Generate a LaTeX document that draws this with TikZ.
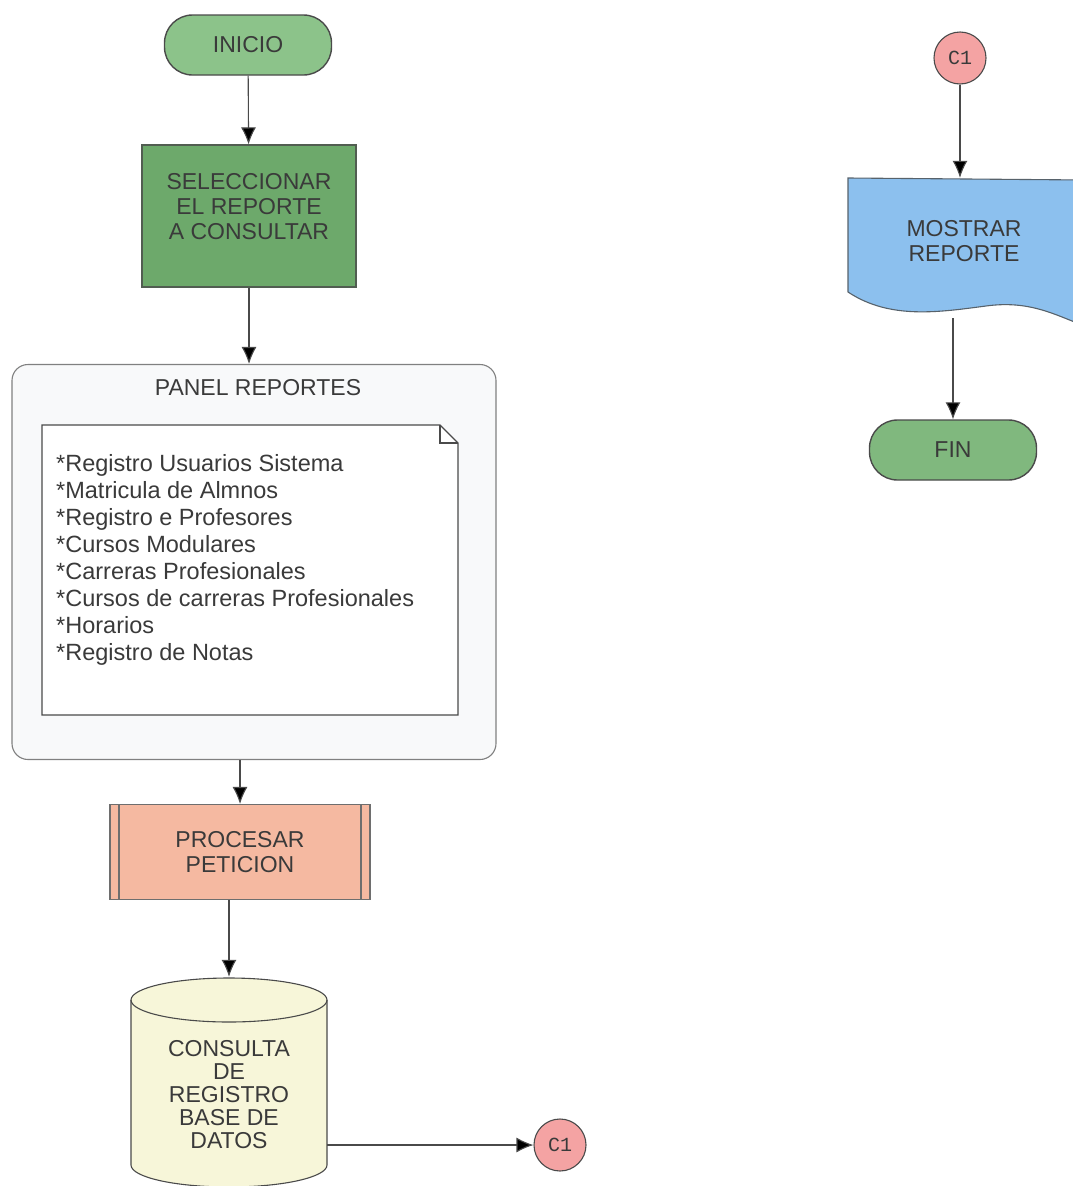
\documentclass[tikz,border=0pt]{standalone}
\usepackage{fontspec}
\setmainfont{Liberation Sans}
\newfontfamily\monofont{Liberation Mono}
\usetikzlibrary{arrows.meta}
\definecolor{linea}{HTML}{4A4A4A}
\definecolor{texto}{HTML}{3A3A3A}
\definecolor{verdeinicio}{HTML}{8CC38A}
\definecolor{verdeselec}{HTML}{6DA96B}
\definecolor{verdefin}{HTML}{80B87E}
\definecolor{grispanel}{HTML}{F8F9FA}
\definecolor{salmon}{HTML}{F5B9A1}
\definecolor{cremadb}{HTML}{F7F6D9}
\definecolor{rosac}{HTML}{F4A3A3}
\definecolor{azulmostrar}{HTML}{8CC0EE}
\tikzset{
  flecha/.style={draw=linea, line width=1.1pt, -{Latex[length=17pt,width=15pt,fill=black]}},
  caja/.style={inner sep=0pt, align=center, text=texto, font=\fontsize{23}{25}\selectfont},
  terminal/.style={caja, draw=linea, line width=1.4pt, rounded corners=28pt,
    minimum width=167pt, minimum height=60pt},
  conector/.style={circle, draw=linea, line width=1.1pt, fill=rosac, minimum size=52pt,
    inner sep=0pt, text=texto, font=\monofont\fontsize{20}{22}\selectfont},
}
\begin{document}
\begin{tikzpicture}[x=1pt,y=-1pt]
  \useasboundingbox (0,0) rectangle (1073,1186);
  % columna izquierda
  \node[terminal, fill=verdeinicio] (inicio) at (248,45) {INICIO};
  \node[caja, draw=linea!80!verdeselec, line width=1.2pt, fill=verdeselec,
    minimum width=214pt, minimum height=142pt] (selec) at (249,216)
    {SELECCIONAR\\EL REPORTE\\A CONSULTAR\\[-6pt]\mbox{}};
  \node[draw=linea!70, line width=1.1pt, fill=grispanel, rounded corners=16pt,
    minimum width=484pt, minimum height=395pt] (panel) at (254,562) {};
  \node[caja] (titulo) at (258,388) {PANEL REPORTES};
  \draw[draw=linea, line width=1.1pt, fill=white]
    (42,425) -- (440,425) -- (458,443) -- (458,715) -- (42,715) -- cycle;
  \draw[draw=linea, line width=1.1pt] (440,425) -- (440,443) -- (458,443);
  \node[anchor=north west, inner sep=0pt, align=left, text=texto,
    font=\fontsize{23.5}{27}\selectfont] (lista) at (56,454)
    {*Registro Usuarios Sistema\\*Matricula de Almnos\\*Registro e Profesores\\
     *Cursos Modulares\\*Carreras Profesionales\\*Cursos de carreras Profesionales\\
     *Horarios\\*Registro de Notas};
  \node[caja, draw=linea!80, line width=1.1pt, fill=salmon,
    minimum width=260pt, minimum height=95pt,
    path picture={
      \draw[linea!80, line width=1.1pt]
        ([xshift=9pt]path picture bounding box.north west) --
        ([xshift=9pt]path picture bounding box.south west)
        ([xshift=-9pt]path picture bounding box.north east) --
        ([xshift=-9pt]path picture bounding box.south east);
    }] (proc) at (240,852) {PROCESAR\\PETICION};
  % cilindro
  \draw[draw=linea, line width=1.1pt, fill=cremadb]
    (131,1000) -- (131,1165) arc[start angle=180, end angle=360, x radius=98pt, y radius=22pt]
    -- (327,1000) arc[start angle=0, end angle=180, x radius=98pt, y radius=22pt] -- cycle;
  \draw[draw=linea, line width=1.1pt]
    (131,1000) arc[start angle=180, end angle=360, x radius=98pt, y radius=22pt];
  \node[caja, font=\fontsize{23}{23}\selectfont, minimum width=196pt, minimum height=210pt]
    (db) at (229,1082) {\\[18pt]CONSULTA\\DE\\REGISTRO\\BASE DE\\DATOS};
  \node[conector] (c1a) at (560,1145) {C1};
  % columna derecha
  \node[conector] (c1b) at (960,58) {C1};
  \draw[draw=linea!80!azulmostrar, line width=1.1pt, fill=azulmostrar]
    (848,178) -- (1085,180) -- (1085,326)
    .. controls (1055,315) and (1030,300) .. (986,306)
    .. controls (940,312) and (890,320) .. (848,292) -- cycle;
  \node[caja, minimum width=232pt, minimum height=140pt] (mostrar) at (964,248)
    {MOSTRAR\\REPORTE\\[-10pt]\mbox{}};
  \node[terminal, fill=verdefin] (fin) at (953,450) {FIN};
  % flechas
  \draw[flecha] (inicio) -- (selec);
  \draw[flecha] (selec) -- (selec |- panel.north);
  \draw[flecha] (proc |- panel.south) -- (proc);
  \draw[flecha] (proc.south -| db) -- (db.north);
  \draw[flecha] (db.east |- c1a) -- (c1a);
  \draw[flecha] (c1b) -- (c1b |- mostrar.north);
  \draw[flecha] (mostrar.south -| fin) -- (fin);
\end{tikzpicture}
\end{document}
